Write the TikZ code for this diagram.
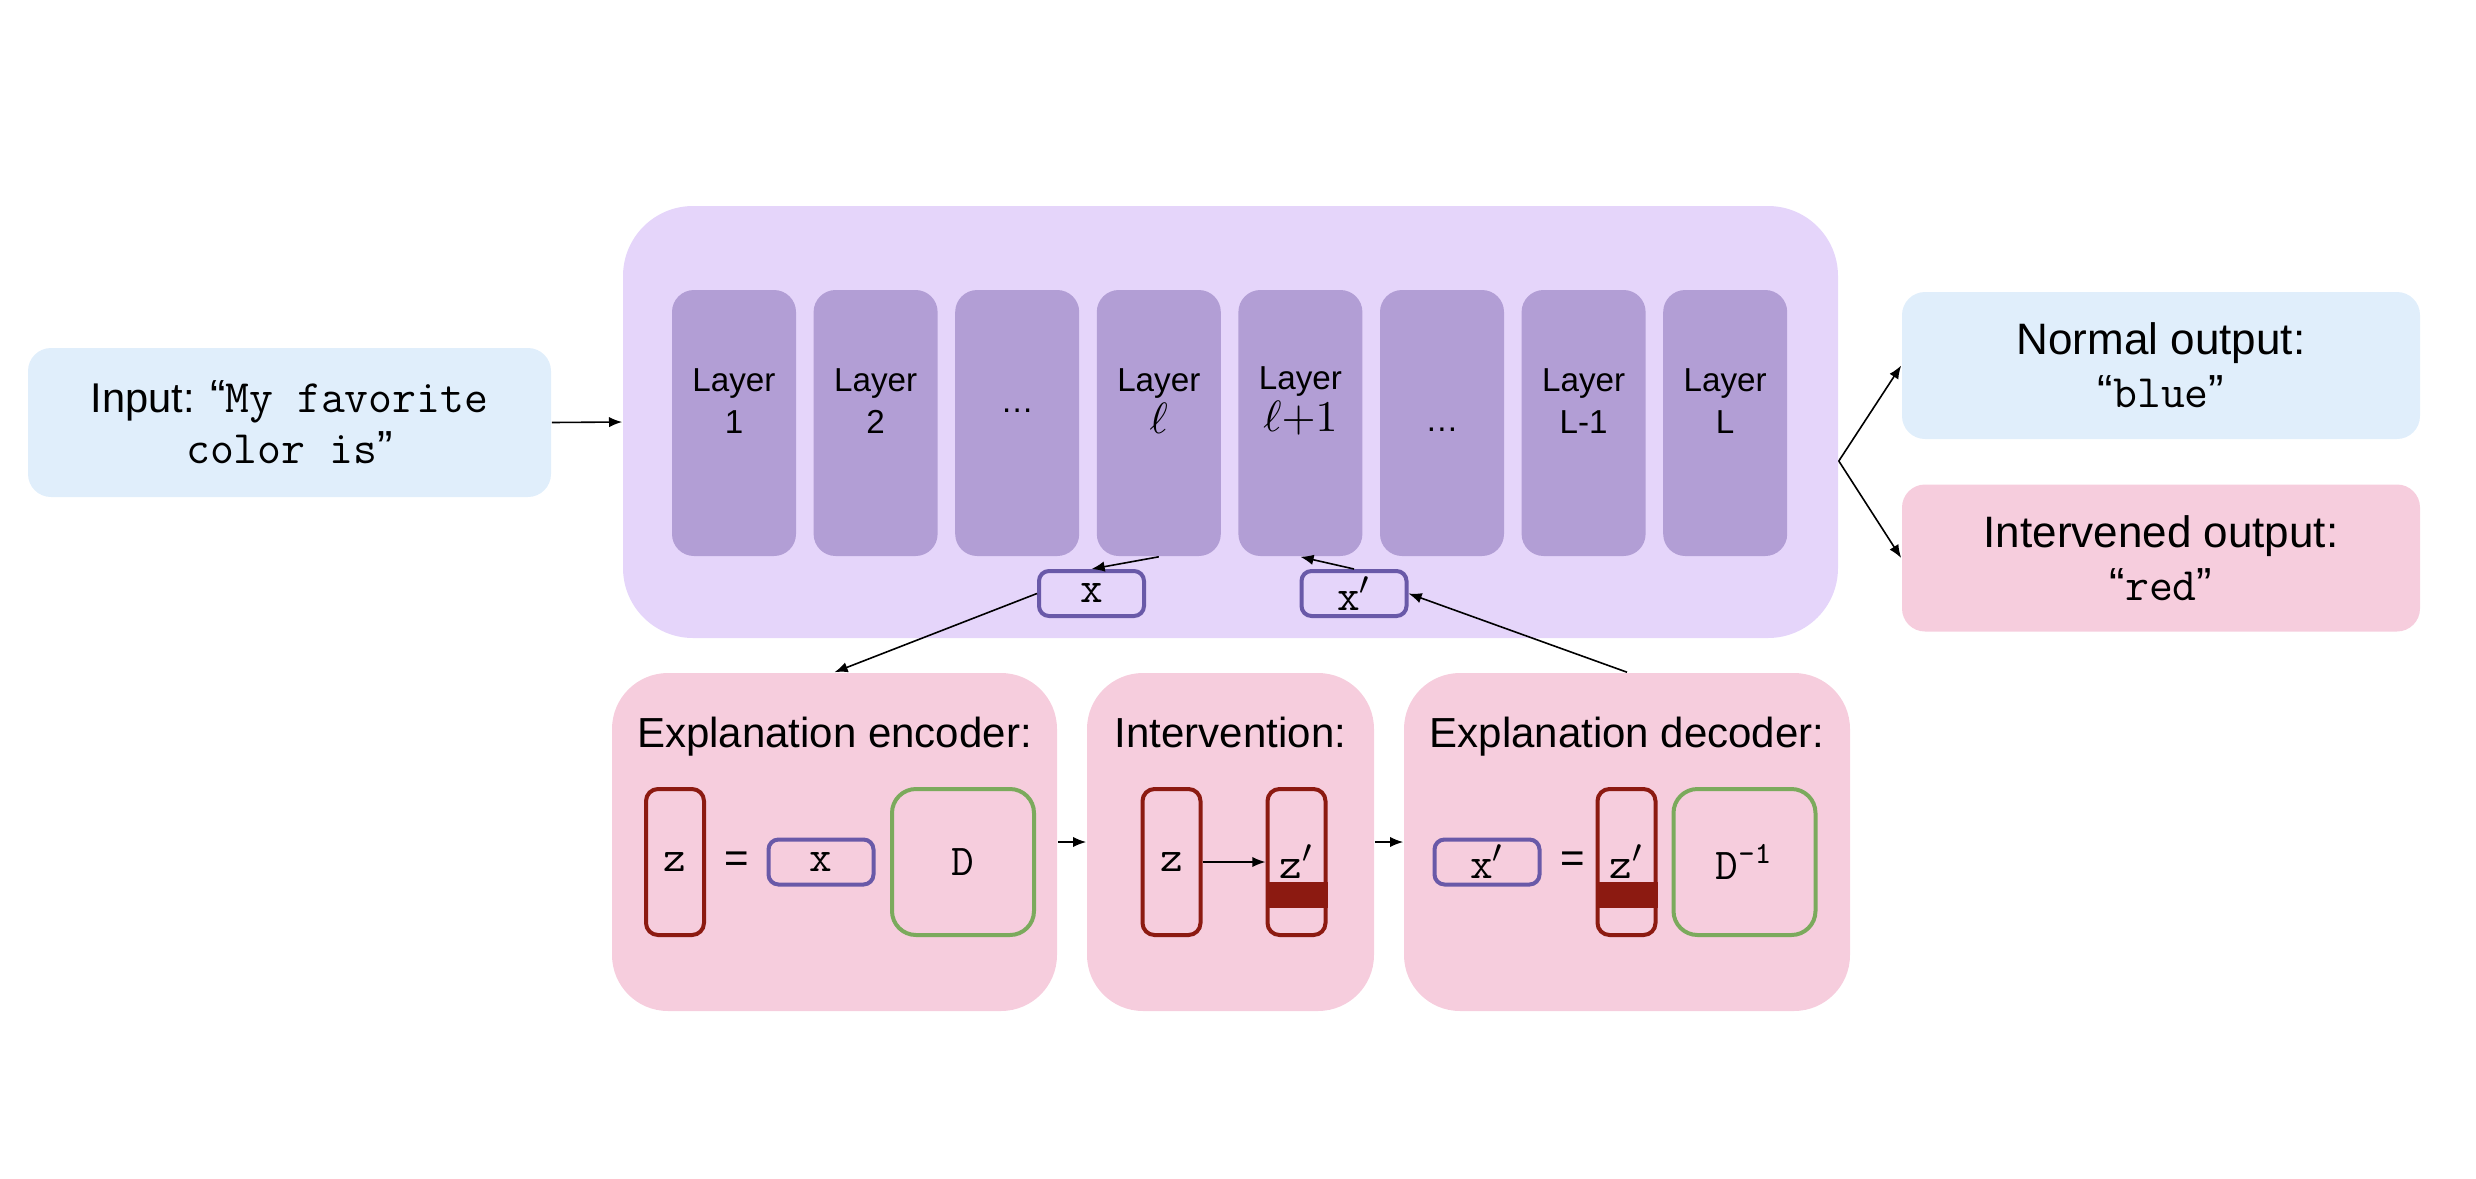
\documentclass[tikz,border=0pt]{standalone}
\usepackage{fontspec}
\setmainfont{Liberation Sans}
\usetikzlibrary{arrows.meta}

\definecolor{inblue}{HTML}{E0EEFB}
\definecolor{outerlilac}{HTML}{E5D5FA}
\definecolor{layerlilac}{HTML}{B29ED5}
\definecolor{panelpink}{HTML}{F6CDDD}
\definecolor{zred}{HTML}{8C1A11}
\definecolor{dgreen}{HTML}{7BAA5C}
\definecolor{xpurple}{HTML}{6959A8}

\newcommand{\ellfont}{\fontsize{10.5}{10.5}\selectfont}
\newcommand{\vecfont}{\fontsize{11}{12}\selectfont\ttfamily}
\newcommand{\quotett}[1]{{\fontsize{11.6}{12}\selectfont\ttfamily #1}}
\newcommand{\openq}{{\rmfamily “}}
\newcommand{\closeq}{{\rmfamily ”}}
\newcommand{\prm}{$'$}

\begin{document}
\begin{tikzpicture}[x=0.25pt, y=-0.25pt,
  >={Latex[length=3.3pt,width=2.6pt]},
  every edge/.style={draw, ->, line width=0.4pt},
  textbox/.style={fill=#1, rounded corners=5.75pt, align=center, inner sep=0pt},
  layer/.style={fill=layerlilac, rounded corners=5.5pt, minimum width=31pt, minimum height=66.5pt, inner sep=0pt},
  layertext/.style={align=center, inner sep=0pt, font=\fontsize{8.3}{10.5}\selectfont},
  panel/.style={fill=panelpink, rounded corners=14pt, minimum width=#1, minimum height=84.5pt, inner sep=0pt},
  title/.style={anchor=base, inner sep=0pt, font=\fontsize{10.5}{12}\selectfont},
  vec/.style={draw=zred, line width=1pt, rounded corners=3pt, minimum width=14.5pt, minimum height=36.5pt, inner sep=0pt, font=\vecfont},
  act/.style={draw=xpurple, line width=1pt, rounded corners=2.5pt, minimum width=26.25pt, minimum height=11.25pt, inner sep=0pt, font=\vecfont},
  dict/.style={draw=dgreen, line width=1pt, rounded corners=6pt, minimum width=35.5pt, minimum height=36.5pt, inner sep=0pt, font=\vecfont}]

  \useasboundingbox (0,0) rectangle (2476,1179);

  % input and model
  \node[textbox=inblue, minimum width=130.75pt, minimum height=37.25pt,
    font=\fontsize{10.4}{12.75}\selectfont] (input) at (289.5,422.5)
    {Input: \quotett{\openq My favorite}\\\quotett{color is\closeq}};
  \node[fill=outerlilac, rounded corners=17.5pt, minimum width=303.75pt, minimum height=108pt] (model) at (1230.5,422) {};
  \path (input.east) edge (model.west);

  \foreach \i/\ty/\txt in {1/401/{Layer\\1}, 2/401/{Layer\\2}, 3/411/{\dots},
      4/401/{Layer\\{\ellfont$\ell$}}, 5/401/{Layer\\{\ellfont$\ell{+}1$}},
      6/430/{\dots}, 7/401/{Layer\\L-1}, 8/401/{Layer\\L}} {
    \node[layer] (lay\i) at ({734+141.6*(\i-1)},423) {};
    \node[layertext] at ({734+141.6*(\i-1)},\ty) {\txt};
  }

  \node[act] (x) at (1091.5,593.5) {x};
  \node[act] (xp) at (1354,593.5) {x\prm};
  \path (lay4.south) edge (x.north);
  \path (xp.north) edge (lay5.south);

  % outputs
  \node[textbox=inblue, minimum width=129.5pt, minimum height=36.75pt,
    font=\fontsize{11}{13.25}\selectfont] (normal) at (2161,365.5)
    {Normal output:\\\quotett{\openq blue\closeq}};
  \node[textbox=panelpink, minimum width=129.5pt, minimum height=36.75pt,
    font=\fontsize{11}{13.25}\selectfont] (interv) at (2161,558)
    {Intervened output:\\\quotett{\openq red\closeq}};
  \coordinate (split) at ([yshift=-9.75pt]model.east);
  \path (split) edge (normal.west);
  \path (split) edge (interv.west);

  % encoder
  \node[panel=111.25pt] (enc) at (834.5,842) {};
  \node[title] at (834.5,747) {Explanation encoder:};
  \node[vec] (z1) at (675,862) {z};
  \node[font=\fontsize{10.5}{12}\selectfont] at (737,862) {=};
  \node[act] (x1) at (821,862) {x};
  \node[dict] (d1) at (963,862) {D};

  % intervention
  \node[panel=71.75pt] (int) at (1230.5,842) {};
  \node[title] at (1230.5,747) {Intervention:};
  \node[vec] (z2) at (1171.5,862) {z};
  \node[vec] (zp2) at (1296.5,862) {z\prm};
  \fill[zred] (zp2.west |- 0,882) rectangle (zp2.east |- 0,908);
  \path (z2.east) edge (zp2.west);

  % decoder
  \node[panel=111.5pt] (dec) at (1627,842) {};
  \node[title] at (1627,747) {Explanation decoder:};
  \node[act] (xp3) at (1487,862) {x\prm};
  \node[font=\fontsize{10.5}{12}\selectfont] at (1573,862) {=};
  \node[vec] (zp3) at (1626.5,862) {z\prm};
  \fill[zred] (zp3.west |- 0,882) rectangle (zp3.east |- 0,908);
  \node[dict] (d3) at (1744.5,862) {D\textsuperscript{-1}};

  \path (x.west) edge (enc.north);
  \path (dec.north) edge (xp.east);
  \path (enc.east) edge (int.west);
  \path (int.east) edge (dec.west);
\end{tikzpicture}
\end{document}
